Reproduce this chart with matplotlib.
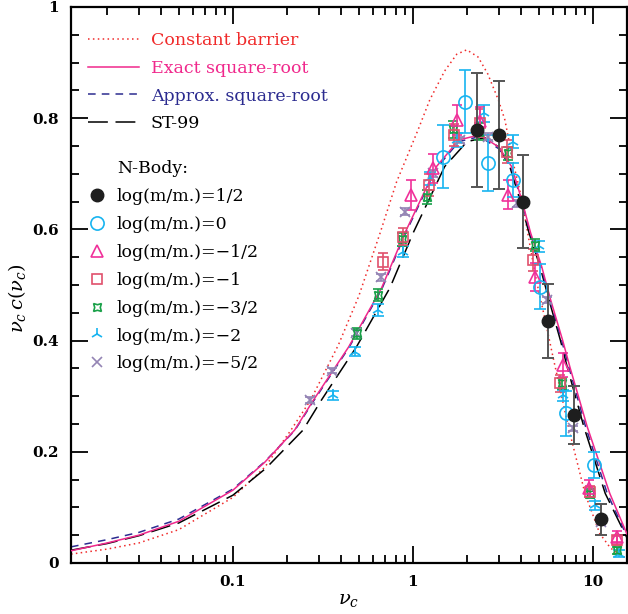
import matplotlib
matplotlib.use('Agg')
import matplotlib.pyplot as plt
from matplotlib.lines import Line2D
from matplotlib import ticker

plt.rcParams['font.family'] = 'DejaVu Serif'
plt.rcParams['mathtext.fontset'] = 'dejavuserif'

# theory curves
cb_x = [0.0126, 0.02, 0.03, 0.05, 0.1, 0.15, 0.21, 0.27, 0.385, 0.5, 0.656, 0.81, 1.07, 1.24, 1.5, 1.75,
        1.99, 2.3, 2.6, 2.98, 3.24, 3.61, 4.02, 4.47, 4.87, 5.4, 6.0, 6.6, 7.29, 9.03, 10.9, 12.5, 14.7, 15.45]
cb_y = [0.016, 0.025, 0.036, 0.060, 0.118, 0.172, 0.239, 0.293, 0.392, 0.480, 0.593, 0.685, 0.780, 0.833, 0.885, 0.915,
        0.923, 0.910, 0.880, 0.833, 0.797, 0.719, 0.655, 0.570, 0.505, 0.440, 0.370, 0.310, 0.245, 0.125, 0.053, 0.027, 0.011, 0.009]

ex_x = [0.0126, 0.02, 0.03, 0.05, 0.1, 0.15, 0.22, 0.28, 0.44, 0.67, 0.9, 1.35, 1.8, 2.35, 3.0, 3.53,
        4.02, 4.51, 5.19, 5.82, 6.79, 7.45, 9.29, 12.4, 15.45]
ex_y = [0.022, 0.036, 0.050, 0.075, 0.131, 0.181, 0.239, 0.293, 0.389, 0.495, 0.593, 0.713, 0.761, 0.770, 0.748, 0.713,
        0.653, 0.593, 0.533, 0.473, 0.400, 0.352, 0.245, 0.125, 0.052]

ap_x = [0.0126, 0.02, 0.03, 0.05, 0.1, 0.15, 0.22, 0.28, 0.44, 0.67, 0.9, 1.35, 1.8, 2.35, 3.0, 3.5,
        4.0, 4.48, 5.14, 5.76, 6.7, 7.35, 9.1, 12.0, 15.45]
ap_y = [0.029, 0.042, 0.055, 0.079, 0.133, 0.182, 0.238, 0.291, 0.387, 0.492, 0.590, 0.710, 0.758, 0.767, 0.745, 0.713,
        0.653, 0.593, 0.533, 0.473, 0.400, 0.352, 0.245, 0.125, 0.048]

st_x = [0.0126, 0.02, 0.03, 0.05, 0.1, 0.152, 0.245, 0.31, 0.486, 0.745, 1.0, 1.5, 2.0, 2.5, 3.0, 3.45,
        3.93, 4.42, 5.08, 5.7, 6.6, 7.2, 8.9, 11.7, 15.45]
st_y = [0.023, 0.035, 0.049, 0.072, 0.122, 0.170, 0.239, 0.293, 0.389, 0.495, 0.593, 0.713, 0.758, 0.765, 0.748, 0.713,
        0.653, 0.593, 0.533, 0.473, 0.400, 0.352, 0.245, 0.125, 0.045]

# N-body points
m1_x = [2.26, 3.02, 4.10, 5.65, 7.84, 11.08]
m1_y = [0.779, 0.770, 0.650, 0.435, 0.266, 0.079]
m1_e = [0.102, 0.097, 0.084, 0.067, 0.052, 0.028]

m2_x = [1.47, 1.94, 2.60, 3.61, 5.08, 7.05, 10.17]
m2_y = [0.731, 0.830, 0.719, 0.689, 0.497, 0.269, 0.176]
m2_e = [0.056, 0.057, 0.050, 0.030, 0.040, 0.040, 0.023]

m3_x = [0.98, 1.29, 1.75, 2.36, 3.39, 4.76, 6.79, 9.55, 13.6]
m3_y = [0.662, 0.710, 0.796, 0.795, 0.662, 0.515, 0.356, 0.134, 0.047]
m3_e = [0.027, 0.026, 0.027, 0.025, 0.026, 0.025, 0.022, 0.015, 0.010]

m4_x = [0.684, 0.883, 1.22, 1.69, 2.36, 3.31, 4.66, 6.56, 9.62, 13.6]
m4_y = [0.542, 0.587, 0.680, 0.770, 0.791, 0.740, 0.545, 0.323, 0.128, 0.041]
m4_e = [0.015, 0.015, 0.020, 0.020, 0.025, 0.020, 0.020, 0.015, 0.010, 0.008]

m5_x = [0.486, 0.641, 0.865, 1.20, 1.67, 2.33, 3.36, 4.76, 6.70, 9.62, 13.6]
m5_y = [0.413, 0.482, 0.582, 0.658, 0.780, 0.776, 0.737, 0.572, 0.323, 0.125, 0.023]
m5_e = [0.010, 0.010, 0.012, 0.012, 0.015, 0.015, 0.012, 0.010, 0.010, 0.008, 0.006]

m6_x = [0.361, 0.477, 0.641, 0.883, 1.24, 1.75, 2.48, 3.58, 5.03, 6.84, 10.26, 14.0]
m6_y = [0.302, 0.380, 0.455, 0.560, 0.692, 0.761, 0.809, 0.758, 0.570, 0.302, 0.104, 0.017]
m6_e = [0.008, 0.008, 0.010, 0.010, 0.012, 0.012, 0.015, 0.012, 0.010, 0.010, 0.008, 0.006]

m7_x = [0.268, 0.353, 0.48, 0.664, 0.904, 1.30, 1.82, 2.62, 3.77, 5.53, 7.71, 11.08]
m7_y = [0.293, 0.346, 0.414, 0.514, 0.632, 0.701, 0.761, 0.767, 0.647, 0.473, 0.242, 0.074]
m7_e = [0.005, 0.005, 0.006, 0.006, 0.006, 0.006, 0.006, 0.006, 0.006, 0.006, 0.005, 0.005]

fig = plt.figure(figsize=(6.28, 6.14), dpi=100)
ax = fig.add_axes([71/628, 51/614, 556/628, 556/614])

c_red = '#f02a2a'
c_mag = '#f0288c'
c_blue = '#2c2c90'
st_dash = (0, (13, 5))

ax.plot(cb_x, cb_y, color=c_red, lw=1.1, linestyle=(0, (1, 2.2)), zorder=2)
ax.plot(st_x, st_y, color='black', lw=1.1, linestyle=st_dash, zorder=2)
ax.plot(ap_x, ap_y, color=c_blue, lw=1.1, linestyle=(0, (5, 4)), zorder=2)
ax.plot(ex_x, ex_y, color=c_mag, lw=1.1, zorder=3)

ebk = dict(linestyle='none', elinewidth=1.2, capthick=1.2, zorder=4)
ax.errorbar(m7_x, m7_y, yerr=m7_e, marker='x', ms=6.5, mew=1.2, color='#9484b4', capsize=3.5, **ebk)
ax.errorbar(m6_x, m6_y, yerr=m6_e, marker='2', ms=9, mew=1.2, color='#18b4f0', capsize=4, **ebk)
ax.errorbar(m5_x, m5_y, yerr=m5_e, marker=(4, 1, 45), ms=8, mew=1.2, mfc='none', color='#18a048', capsize=3.5, **ebk)
ax.errorbar(m4_x, m4_y, yerr=m4_e, marker='s', ms=6.5, mew=1.2, mfc='none', color='#e0506c', capsize=3.5, **ebk)
ax.errorbar(m3_x, m3_y, yerr=m3_e, marker='^', ms=8, mew=1.2, mfc='none', color='#f0309a', capsize=3.5, **ebk)
ax.errorbar(m2_x, m2_y, yerr=m2_e, marker='o', ms=9.5, mew=1.2, mfc='none', color='#18b4f0', capsize=4.5, **ebk)
ax.errorbar(m1_x, m1_y, yerr=m1_e, marker='o', ms=9, mfc='#1e1e1e', mec='#1e1e1e', ecolor='#555555',
            capsize=4.3, linestyle='none', elinewidth=1.4, capthick=1.4, zorder=5)

ax.set_xscale('log')
ax.set_xlim(0.0126, 15.45)
ax.set_ylim(0, 1)
ax.xaxis.set_major_locator(ticker.LogLocator(base=10))
ax.xaxis.set_minor_locator(ticker.LogLocator(base=10, subs=range(2, 10)))
ax.xaxis.set_major_formatter(ticker.FuncFormatter(lambda v, p: '%g' % v))
ax.xaxis.set_minor_formatter(ticker.NullFormatter())
ax.yaxis.set_major_locator(ticker.MultipleLocator(0.2))
ax.yaxis.set_minor_locator(ticker.MultipleLocator(0.05))
ax.yaxis.set_major_formatter(ticker.FuncFormatter(lambda v, p: '%g' % v))

ax.tick_params(which='both', direction='in', top=True, right=True, width=1.3, labelsize=11)
ax.tick_params(which='major', length=12, pad=9)
ax.tick_params(which='minor', length=6)
for lab in ax.get_xticklabels() + ax.get_yticklabels():
    lab.set_fontweight('bold')
for s in ax.spines.values():
    s.set_linewidth(1.6)

ax.set_xlabel(r'$\nu_c$', fontsize=14, labelpad=1)
ax.set_ylabel(r'$\nu_c\,c(\nu_c)$', fontsize=14)
ax.yaxis.set_label_coords(-0.077, 0.477)

line_handles = [
    Line2D([], [], color=c_red, lw=1.1, linestyle=(0, (1, 2.2)), label='Constant barrier'),
    Line2D([], [], color=c_mag, lw=1.1, label='Exact square-root'),
    Line2D([], [], color=c_blue, lw=1.1, linestyle=(0, (5, 4)), label='Approx. square-root'),
    Line2D([], [], color='black', lw=1.1, linestyle=st_dash, label='ST-99'),
]
leg1 = ax.legend(handles=line_handles, loc='upper left', bbox_to_anchor=(0.031, 0.955), frameon=False,
                 fontsize=12.5, handlelength=2.9, handletextpad=0.7, labelspacing=0.62,
                 borderpad=0, borderaxespad=0, labelcolor='linecolor')
ax.add_artist(leg1)

pt_handles = [
    Line2D([], [], linestyle='none', label='N-Body:'),
    Line2D([], [], linestyle='none', marker='o', ms=9, color='#1e1e1e', label='log(m/m.)=1/2'),
    Line2D([], [], linestyle='none', marker='o', ms=9.5, mew=1.2, mfc='none', color='#18b4f0', label='log(m/m.)=0'),
    Line2D([], [], linestyle='none', marker='^', ms=8, mew=1.2, mfc='none', color='#f0309a', label='log(m/m.)=\u22121/2'),
    Line2D([], [], linestyle='none', marker='s', ms=6.5, mew=1.2, mfc='none', color='#e0506c', label='log(m/m.)=\u22121'),
    Line2D([], [], linestyle='none', marker=(4, 1, 45), ms=8, mew=1.2, mfc='none', color='#18a048', label='log(m/m.)=\u22123/2'),
    Line2D([], [], linestyle='none', marker='2', ms=9, mew=1.2, color='#18b4f0', label='log(m/m.)=\u22122'),
    Line2D([], [], linestyle='none', marker='x', ms=6.5, mew=1.2, color='#9484b4', label='log(m/m.)=\u22125/2'),
]
ax.legend(handles=pt_handles, loc='upper left', bbox_to_anchor=(0.031, 0.725), frameon=False,
          fontsize=12.5, handlelength=1.0, handletextpad=0.65, labelspacing=0.63,
          borderpad=0, borderaxespad=0)

fig.savefig('out.png', dpi=100)
